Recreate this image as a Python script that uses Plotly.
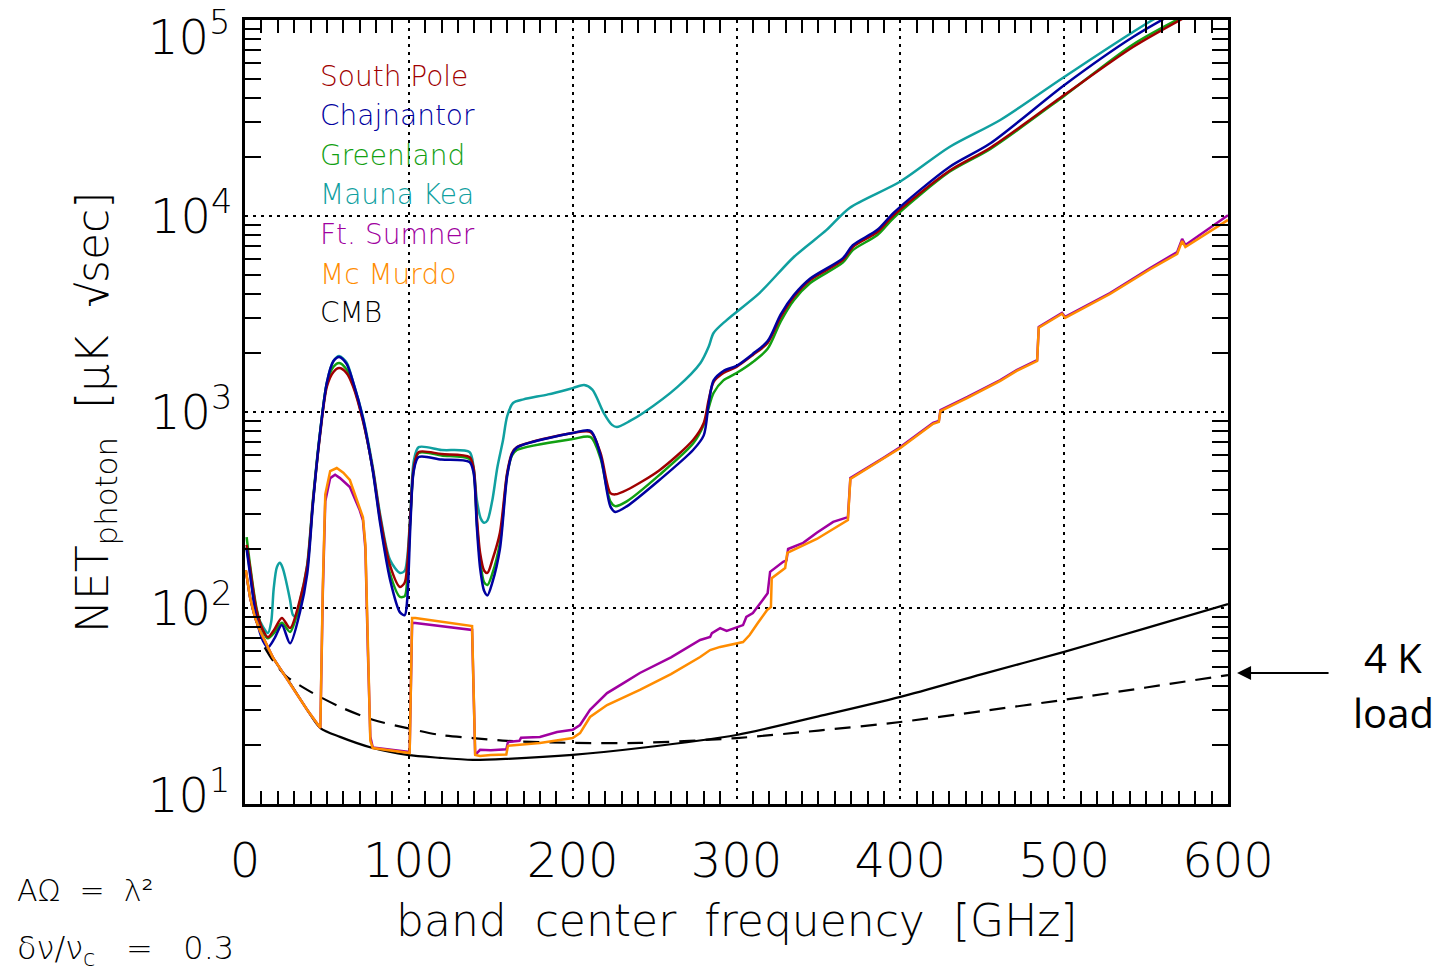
import plotly.graph_objects as go

# ---------------- data ----------------
atm_freq = [1, 3, 7, 11, 14, 18, 22.5, 27.5, 33.5, 38,
            41.5, 45.8, 50, 54, 57.5, 62, 66, 72, 78, 82.5,
            88.5, 94.6, 97.5, 99, 101, 103, 106, 120, 137, 139.5,
            141.5, 143.5, 146, 148, 151, 155.6, 160, 163, 166, 200,
            211, 217, 223, 226, 233, 253, 273.5, 280, 283, 286,
            292, 300, 310, 319, 327, 335, 345, 365, 371, 386,
            396, 430, 455, 500, 542, 575]

south_pole = [210, 162, 98, 77, 71, 78, 89, 79, 110, 165,
              350, 760, 1350, 1600, 1675, 1580, 1350, 900, 510, 290,
              165, 128, 135, 165, 300, 520, 625, 610, 589, 520,
              291, 191, 155, 151, 176, 242, 489, 618, 662, 782,
              790, 618, 386, 380, 400, 505, 720, 879, 1151, 1422,
              1580, 1700, 1955, 2250, 3055, 3860, 4710, 5970, 6950, 8280,
              10110, 17000, 22300, 41400, 72800, 104500]

chajnantor = [200, 150, 88, 68, 63, 70, 82, 66, 95, 150,
              340, 780, 1420, 1820, 1910, 1760, 1420, 930, 500, 270,
              140, 95, 92, 110, 270, 500, 589, 572, 555, 490,
              260, 160, 122, 116, 135, 200, 470, 610, 660, 782,
              800, 600, 330, 309, 330, 450, 640, 760, 1100, 1450,
              1620, 1720, 1980, 2300, 3150, 3950, 4800, 6100, 7100, 8500,
              10400, 17800, 23500, 46500, 81900, 118000]

greenland = [230, 168, 100, 76, 70, 75, 84, 75.5, 105, 160,
             350, 780, 1400, 1700, 1780, 1650, 1380, 910, 505, 280,
             150, 114, 115, 140, 290, 510, 618, 600, 576, 505,
             275, 175, 135, 131, 150, 215, 480, 600, 640, 728,
             745, 580, 350, 331, 350, 478, 690, 860, 1050, 1250,
             1450, 1580, 1800, 2100, 2900, 3720, 4550, 5800, 6700, 8000,
             9800, 16800, 22000, 41000, 75000, 106600]

mk_freq = [1, 3, 7, 11, 14, 16, 17.5, 19.5, 21.4, 23,
           24.5, 27.5, 29.3, 31.5, 34, 38, 41.5, 45.8, 50, 54,
           57.5, 62, 66, 72, 78, 82.5, 88.5, 94.6, 97.5, 99,
           101, 103, 106, 120, 137, 139.5, 141.5, 144, 146, 148,
           151, 154, 157.5, 160, 163.6, 170, 185, 200, 207, 212,
           219, 224, 227, 235, 243, 264, 278, 283, 286, 294,
           314, 335, 355, 369, 400, 430, 461, 500, 554, 575]
mauna_kea = [205, 155, 95, 80, 74.5, 85, 125, 162, 170, 160,
             144, 110, 92, 90, 112, 168, 360, 790, 1420, 1820,
             1930, 1790, 1420, 942, 524, 300, 176, 151, 155, 180,
             310, 560, 662, 640, 625, 524, 356, 285, 272, 280,
             356, 520, 720, 950, 1112, 1160, 1230, 1324, 1373, 1300,
             988, 860, 838, 900, 988, 1343, 1778, 2150, 2530, 2945,
             4044, 6180, 8490, 10990, 15000, 22500, 30900, 51200, 100000, 122000]

fs_freq = [0.5, 3, 6, 9, 17, 27.5, 38, 46, 47.5, 49,
           52, 55, 58, 64, 70, 72, 73.5, 75, 76.5, 78,
           99, 100.5, 102, 104, 138.6, 139.5, 140.5, 143.5, 150, 159.5,
           160.5, 167.5, 168.5, 180, 190.5, 200, 204.5, 210.6, 221, 231,
           241, 260, 277.8, 283.9, 285, 290, 294, 304, 306, 310,
           312.5, 316, 319, 320.5, 328.5, 330.5, 331.5, 340.7, 349, 359,
           368, 369.5, 389.5, 400, 420, 423.5, 424.5, 441, 461, 471,
           483.5, 484.5, 498.7, 500.6, 528, 552.5, 569, 572, 574, 600]
ft_sumner = [156, 114, 90, 77, 56, 41.4, 30.2, 24.4, 120, 350,
             460, 478, 460, 414, 316, 280, 200, 60, 22, 19.4,
             18.4, 18.4, 84, 83.8, 77.3, 40, 17.8, 18.9, 18.8, 19.0,
             20.7, 21.0, 21.8, 22, 23.3, 23.9, 25.3, 30.2, 36.8, 41.4,
             46.6, 56, 68.7, 71.1, 74.5, 79, 76.4, 81.8, 90, 94.2,
             101, 110, 119, 153, 172, 175, 200, 215, 242, 275,
             291, 460, 582, 662, 879, 900, 1023, 1193, 1455, 1637,
             1842, 2716, 3200, 3055, 4045, 5430, 6550, 7640, 7110, 10100]

mm_freq = [0.5, 3, 6, 9, 17, 27.5, 38, 46, 47.5, 49,
           52, 56, 60, 64, 70, 72, 73.5, 75, 76.5, 78,
           99, 100.5, 102, 104, 138.6, 139.5, 140.5, 143.5, 150, 159.5,
           160.5, 180, 200, 204.5, 210.6, 221, 241, 260, 277.8, 283.9,
           290, 304, 308, 313, 318.7, 321, 321.5, 329.7, 331, 349,
           368, 369.5, 389.5, 400, 420, 423.5, 424.5, 441, 461, 471,
           483.5, 484.5, 498.7, 500.6, 528, 552.5, 569, 572, 574, 600]
mc_murdo = [156, 114, 90, 77, 56, 41.4, 30.2, 24.4, 130, 380,
            500, 518, 490, 450, 327, 290, 210, 60, 21, 19.3,
            18.2, 18.2, 89, 88.9, 80.9, 40, 17.8, 17.6, 17.8, 17.9,
            19.8, 20.5, 21.7, 23.0, 27.8, 32, 38.2, 46, 56.2, 61,
            63.3, 67, 72.8, 83.8, 97.7, 101, 142, 160, 191, 225,
            281, 455, 575, 655, 870, 890, 1010, 1180, 1440, 1620,
            1820, 2690, 3170, 3020, 4000, 5350, 6400, 7450, 6950, 9550]

cmb_freq = [0.5, 3, 6, 9, 17, 27.5, 38, 46, 58, 78, 99, 119, 139, 160,
            200, 241, 300, 350, 400, 450, 500, 550, 600]
cmb = [156, 114, 90, 77, 56, 41.4, 30.2, 24.4, 22.0, 19.3, 17.8, 17.2, 16.8, 17.0,
       17.8, 19.3, 22.5, 28, 35.2, 46, 59.7, 79, 104.8]

load_freq = [12, 17, 25, 38, 58, 78, 99, 119, 139, 160, 200, 241, 300, 350,
             400, 450, 500, 550, 600]
load_4k = [63, 54, 45, 38.2, 31.3, 26.9, 24.4, 22.5, 21.7, 21.0, 20.5, 20.5, 21.7, 23.7,
           26.2, 29.8, 34.0, 39.3, 45.5]

site_names = ["South Pole", "Chajnantor", "Greenland", "Mauna Kea",
              "Ft. Sumner", "Mc Murdo", "CMB"]
x_ticks = [0, 100, 200, 300, 400, 500, 600]
y_ticks = [10, 100, 1000, 10000, 100000]
y_ticktext = ["", "10<sup>2</sup>", "10<sup>3</sup>", "10<sup>4</sup>", ""]
y_top_label = "10<sup>5</sup>"
y_bottom_label = "10<sup>1</sup>"

# ---------------- styling ----------------
C_RED = "#a00000"
C_BLUE = "#0000a0"
C_GREEN = "#12a012"
C_CYAN = "#10a0a0"
C_PURPLE = "#a000a0"
C_ORANGE = "#ff8c00"
colors = [C_RED, C_BLUE, C_GREEN, C_CYAN, C_PURPLE, C_ORANGE, "black"]
FONT = "DejaVu Sans"
LW = 2.5
SM = 0.8

fig = go.Figure()
fig.add_trace(go.Scatter(x=load_freq, y=load_4k, mode="lines",
                         line=dict(color="black", width=2.2, dash="16px,10px",
                                   shape="spline", smoothing=SM)))
fig.add_trace(go.Scatter(x=cmb_freq, y=cmb, mode="lines",
                         line=dict(color="black", width=2.2, shape="spline", smoothing=SM)))
fig.add_trace(go.Scatter(x=mk_freq, y=mauna_kea, mode="lines",
                         line=dict(color=C_CYAN, width=LW, shape="spline", smoothing=SM)))
fig.add_trace(go.Scatter(x=atm_freq, y=greenland, mode="lines",
                         line=dict(color=C_GREEN, width=LW, shape="spline", smoothing=SM)))
fig.add_trace(go.Scatter(x=atm_freq, y=south_pole, mode="lines",
                         line=dict(color=C_RED, width=LW, shape="spline", smoothing=SM)))
fig.add_trace(go.Scatter(x=atm_freq, y=chajnantor, mode="lines",
                         line=dict(color=C_BLUE, width=LW, shape="spline", smoothing=SM)))
fig.add_trace(go.Scatter(x=fs_freq, y=ft_sumner, mode="lines",
                         line=dict(color=C_PURPLE, width=LW)))
fig.add_trace(go.Scatter(x=mm_freq, y=mc_murdo, mode="lines",
                         line=dict(color=C_ORANGE, width=LW)))

grid = dict(showgrid=True, gridcolor="black", gridwidth=2, griddash="3px,5px",
            showline=True, linecolor="black", linewidth=3, mirror="allticks",
            zeroline=False, ticks="", automargin=False)

x_minor = [v for v in range(10, 600, 10) if v % 100 != 0]
y_minor = [m * 10 ** d for d in range(1, 5) for m in range(2, 10)]

fig.update_xaxes(range=[0, 600], tickmode="array", tickvals=x_ticks,
                 tickfont=dict(size=48, family=FONT, weight=300),
                 ticklabelstandoff=12, ticklabeloverflow="allow",
                 minor=dict(tickmode="array", tickvals=x_minor, ticks="inside",
                            ticklen=13, tickwidth=2, tickcolor="black", showgrid=False),
                 **grid)
fig.update_yaxes(type="log", range=[1, 5], tickmode="array", tickvals=y_ticks,
                 ticktext=y_ticktext,
                 tickfont=dict(size=48, family=FONT, weight=300),
                 ticklabelstandoff=0,
                 minor=dict(tickmode="array", tickvals=y_minor, ticks="inside",
                            ticklen=16, tickwidth=2, tickcolor="black", showgrid=False),
                 **grid)

annotations = []
leg_y = [0.9273, 0.8776, 0.8278, 0.7768, 0.7270, 0.6760, 0.6263]
for name, col, yy in zip(site_names, colors, leg_y):
    annotations.append(dict(x=0.0743, y=yy, xref="paper", yref="paper",
                            text=name, showarrow=False, xanchor="left", yanchor="middle",
                            font=dict(size=28, color=col, family=FONT, weight=300)))

annotations.append(dict(x=-0.0132, y=1, xref="paper", yref="paper", yshift=-14,
                        text=y_top_label, showarrow=False, xanchor="right", yanchor="middle",
                        font=dict(size=48, family=FONT, weight=300)))
annotations.append(dict(x=-0.0132, y=0, xref="paper", yref="paper", yshift=12,
                        text=y_bottom_label, showarrow=False, xanchor="right", yanchor="middle",
                        font=dict(size=48, family=FONT, weight=300)))
annotations.append(dict(x=0.5, y=-0.148, xref="paper", yref="paper",
                        text="band  center  frequency  [GHz]", showarrow=False,
                        xanchor="center", yanchor="middle",
                        font=dict(size=44, family=FONT, weight=300)))
annotations.append(dict(x=-0.1526, y=0.5, xref="paper", yref="paper",
                        text="NET<sub>photon</sub>  [μK  √sec]", showarrow=False,
                        textangle=-90, xanchor="center", yanchor="middle",
                        font=dict(size=44, family=FONT, weight=300)))
annotations.append(dict(x=-0.234, y=-0.1097, xref="paper", yref="paper",
                        text="AΩ  =  λ²", showarrow=False,
                        xanchor="left", yanchor="middle",
                        font=dict(size=30, family=FONT, weight=300)))
annotations.append(dict(x=-0.234, y=-0.1862, xref="paper", yref="paper",
                        text="δν/ν<sub>c</sub>   =   0.3", showarrow=False,
                        xanchor="left", yanchor="middle",
                        font=dict(size=32, family=FONT, weight=300)))
annotations.append(dict(x=1.0092, y=0.1671, xref="paper", yref="paper",
                        text="", showarrow=True, ax=93, ay=0,
                        arrowhead=2, arrowsize=1.4, arrowwidth=2, arrowcolor="black"))
annotations.append(dict(x=1.1679, y=0.1875, xref="paper", yref="paper",
                        text="4 K", showarrow=False, xanchor="center", yanchor="middle",
                        font=dict(size=40, family="Open Sans")))
annotations.append(dict(x=1.1679, y=0.1173, xref="paper", yref="paper",
                        text="load", showarrow=False, xanchor="center", yanchor="middle",
                        font=dict(size=40, family="Open Sans")))

fig.update_layout(width=1446, height=973,
                  margin=dict(l=245, r=218, t=20, b=169, autoexpand=False),
                  plot_bgcolor="white", paper_bgcolor="white",
                  showlegend=False, annotations=annotations,
                  font=dict(family=FONT, color="black"))

fig.write_html("out.html")
